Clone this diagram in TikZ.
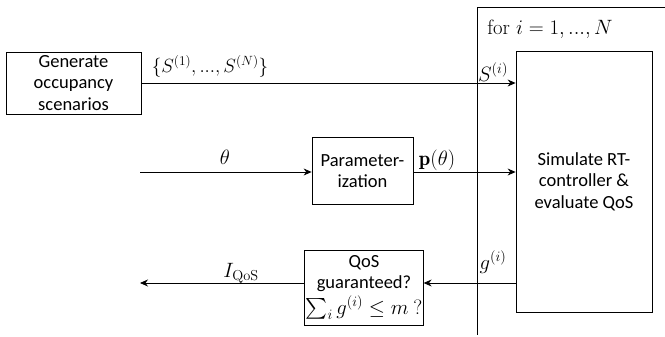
\RequirePackage{fix-cm}
\documentclass[tikz,border=0pt]{standalone}
\usepackage{amsmath,amssymb}
\usepackage{fontspec}
\newfontfamily\blockfont{Carlito}
\usepackage{tikz}
\usetikzlibrary{arrows.meta}

\begin{document}
\begin{tikzpicture}[x=1pt,y=-1pt]
  \tikzset{block/.style={rectangle,draw=black,line width=0.8pt,inner sep=1pt,align=center,font=\blockfont\fontsize{18.5}{21.5}\selectfont}}
  \tikzset{signal/.style={draw=black,line width=0.8pt,-{Stealth[length=8pt,width=7pt]}}}
  \tikzset{signallabel/.style={font=\fontsize{20.74}{25}\selectfont,inner sep=0pt,text=black}}
  \useasboundingbox (0,0) rectangle (665,337);
  \node[block,minimum width=135pt,minimum height=62pt] (gen) at (73.5,83) {Generate\\occupancy\\scenarios};
  \node[block,minimum width=101pt,minimum height=67pt] (par) at (362.5,171) {Parameter-\\ization};
  \node[block,minimum width=136pt,minimum height=261pt] (sim) at (584,181.5) {Simulate RT-\\controller \&\\evaluate QoS};
  \node[block,minimum width=118pt,minimum height=75pt] (qos) at (364,287.5) {QoS\\guaranteed?\\[3pt]{\fontsize{20.74}{25}\selectfont$\sum_i g^{(i)} \leq m\ ?$}};
  \coordinate (thetain) at (140,172);
  \coordinate (qosout) at (140,283);
  % loop frame
  \draw[line width=0.8pt] (665,7) -- (477,7) -- (477,335);
  \node[signallabel] (lfor) at (550,29.5) {for $i=1,...,N$};
  % signals
  \draw[signal] (gen.east) -- (gen.east -| sim.west);
  \node[signallabel,font=\fontsize{19.1}{23}\selectfont] (lscen) at (210,66) {$\{S^{(1)},...,S^{(N)}\}$};
  \node[signallabel] (ls) at (493,72) {$S^{(i)}$};
  \draw[signal] (thetain) -- (thetain -| par.west);
  \node[signallabel] (ltheta) at (225,157) {$\theta$};
  \draw[signal] (par.east |- thetain) -- (thetain -| sim.west);
  \node[signallabel] (lp) at (437,160) {$\mathbf{p}(\theta)$};
  \draw[signal] (qosout -| sim.west) -- (qosout -| qos.east);
  \node[signallabel] (lg) at (493,262) {$g^{(i)}$};
  \draw[signal] (qosout -| qos.west) -- (qosout);
  \node[signallabel] (liqos) at (241,273) {$I_{\mathrm{QoS}}$};
\end{tikzpicture}
\end{document}
